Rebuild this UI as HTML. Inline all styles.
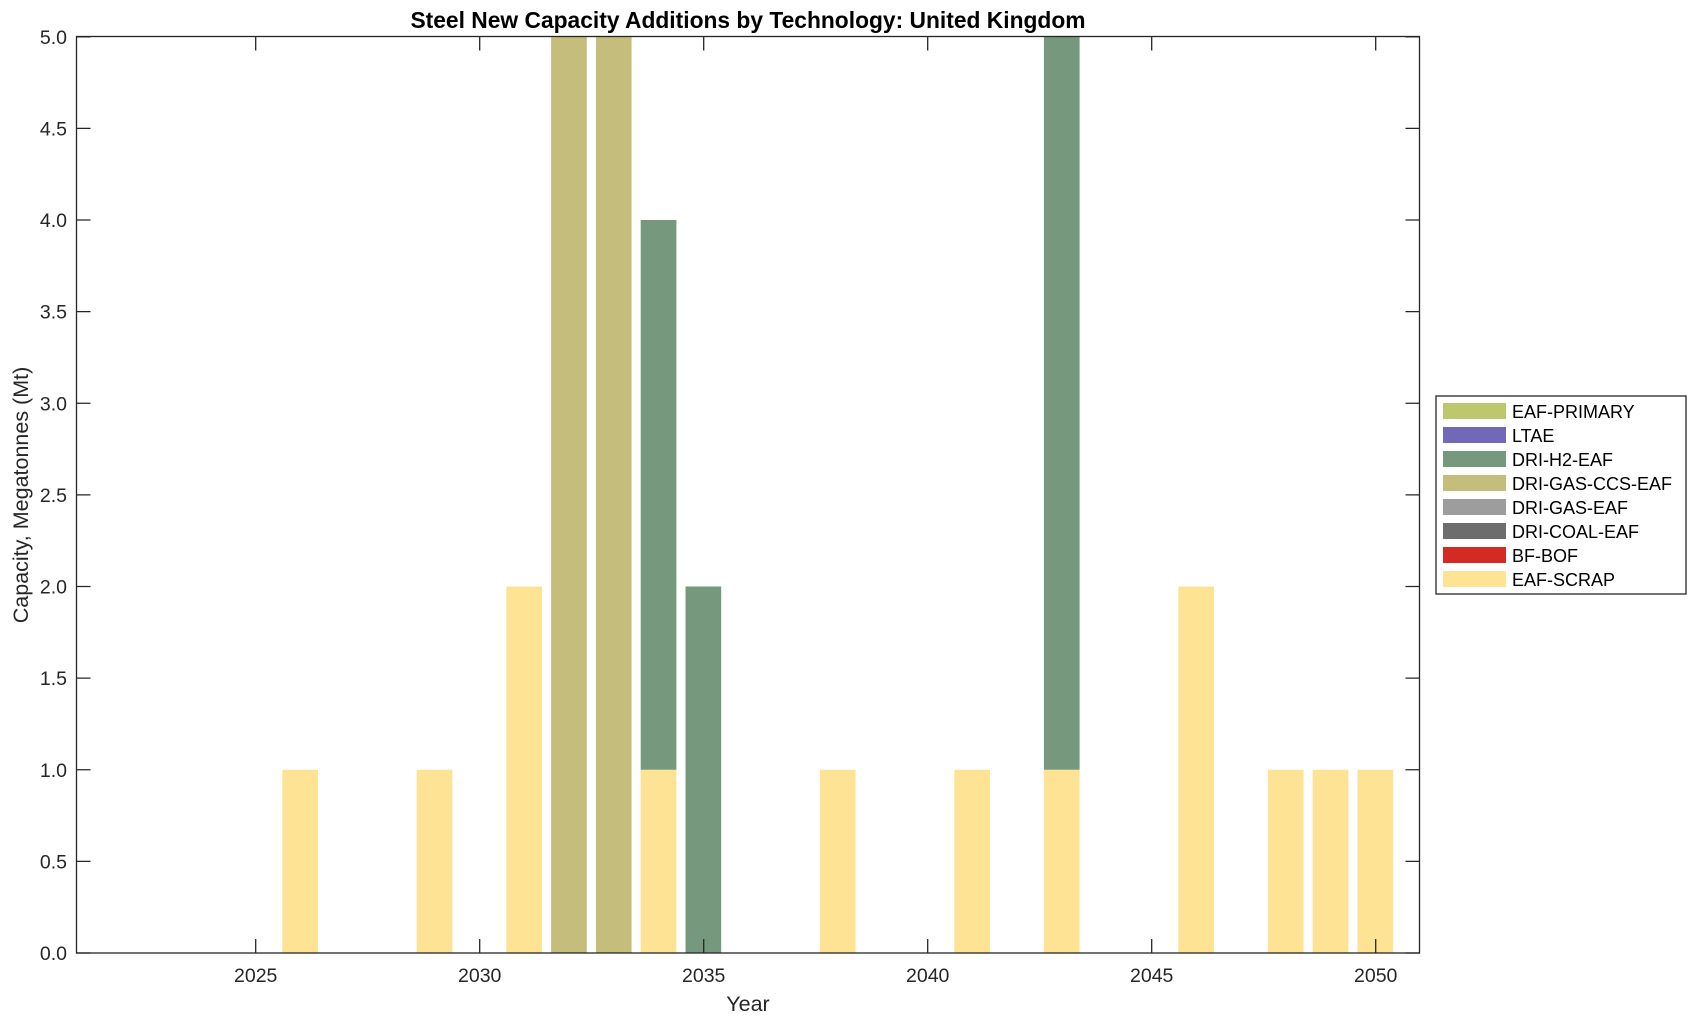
<!DOCTYPE html>
<html><head><meta charset="utf-8"><style>
html,body{margin:0;padding:0;background:#fff;}
svg{display:block;font-family:"Liberation Sans",Arial,sans-serif;}
</style></head><body>
<svg width="1696" height="1021" viewBox="0 0 1696 1021" xmlns="http://www.w3.org/2000/svg">
<rect width="1696" height="1021" fill="#fff"/>
<g id="bars">
<rect x="282.3" y="769.75" width="35.7" height="183.25" fill="#fee394"/>
<rect x="416.7" y="769.75" width="35.7" height="183.25" fill="#fee394"/>
<rect x="506.3" y="586.5" width="35.7" height="366.5" fill="#fee394"/>
<rect x="551.1" y="36.8" width="35.7" height="916.2" fill="#c5bd7c"/>
<rect x="595.9" y="36.8" width="35.7" height="916.2" fill="#c5bd7c"/>
<rect x="640.7" y="769.75" width="35.7" height="183.25" fill="#fee394"/>
<rect x="640.7" y="220" width="35.7" height="549.75" fill="#76997d"/>
<rect x="685.5" y="586.5" width="35.7" height="366.5" fill="#76997d"/>
<rect x="819.9" y="769.75" width="35.7" height="183.25" fill="#fee394"/>
<rect x="954.3" y="769.75" width="35.7" height="183.25" fill="#fee394"/>
<rect x="1043.9" y="769.75" width="35.7" height="183.25" fill="#fee394"/>
<rect x="1043.9" y="36.8" width="35.7" height="732.95" fill="#76997d"/>
<rect x="1178.3" y="586.5" width="35.7" height="366.5" fill="#fee394"/>
<rect x="1267.9" y="769.75" width="35.7" height="183.25" fill="#fee394"/>
<rect x="1312.7" y="769.75" width="35.7" height="183.25" fill="#fee394"/>
<rect x="1357.5" y="769.75" width="35.7" height="183.25" fill="#fee394"/>
</g>
<g stroke="#262626" stroke-width="1.3" fill="none">
<rect x="76.5" y="36.5" width="1343" height="916.5"/>
<path d="M255.7 953v-14M479.7 953v-14M703.7 953v-14M927.7 953v-14M1151.7 953v-14M1375.7 953v-14
M255.7 36.5v14M479.7 36.5v14M703.7 36.5v14M927.7 36.5v14M1151.7 36.5v14M1375.7 36.5v14
M76.5 953h14M76.5 861.4h14M76.5 769.75h14M76.5 678.1h14M76.5 586.5h14M76.5 494.9h14M76.5 403.25h14M76.5 311.6h14M76.5 220h14M76.5 128.4h14M76.5 36.8h14
M1419.5 953h-14M1419.5 861.4h-14M1419.5 769.75h-14M1419.5 678.1h-14M1419.5 586.5h-14M1419.5 494.9h-14M1419.5 403.25h-14M1419.5 311.6h-14M1419.5 220h-14M1419.5 128.4h-14M1419.5 36.8h-14"/>
</g>
<g fill="#262626" font-size="19.5" text-anchor="end">
<text x="67" y="960">0.0</text>
<text x="67" y="868.4">0.5</text>
<text x="67" y="776.75">1.0</text>
<text x="67" y="685.1">1.5</text>
<text x="67" y="593.5">2.0</text>
<text x="67" y="501.9">2.5</text>
<text x="67" y="410.25">3.0</text>
<text x="67" y="318.6">3.5</text>
<text x="67" y="227">4.0</text>
<text x="67" y="135.4">4.5</text>
<text x="67" y="43.8">5.0</text>
</g>
<g fill="#262626" font-size="19.5" text-anchor="middle">
<text x="255.7" y="982">2025</text>
<text x="479.7" y="982">2030</text>
<text x="703.7" y="982">2035</text>
<text x="927.7" y="982">2040</text>
<text x="1151.7" y="982">2045</text>
<text x="1375.7" y="982">2050</text>
<text x="748" y="1011" font-size="21.5">Year</text>
<text transform="translate(28,495) rotate(-90)" font-size="21.5">Capacity, Megatonnes (Mt)</text>
<text x="748" y="28" font-size="22.8" font-weight="bold" fill="#000">Steel New Capacity Additions by Technology: United Kingdom</text>
</g>
<g>
<rect x="1436" y="396" width="250" height="198" fill="#fff" stroke="#262626" stroke-width="1.3"/>
<g font-size="18" fill="#000">
<rect x="1443" y="403" width="63" height="16" fill="#bdc86e"/><text x="1512" y="418">EAF-PRIMARY</text>
<rect x="1443" y="427" width="63" height="16" fill="#7169b7"/><text x="1512" y="442">LTAE</text>
<rect x="1443" y="451" width="63" height="16" fill="#76997d"/><text x="1512" y="466">DRI-H2-EAF</text>
<rect x="1443" y="475" width="63" height="16" fill="#c5bd7c"/><text x="1512" y="490">DRI-GAS-CCS-EAF</text>
<rect x="1443" y="499" width="63" height="16" fill="#9d9d9d"/><text x="1512" y="514">DRI-GAS-EAF</text>
<rect x="1443" y="523" width="63" height="16" fill="#6d6d6d"/><text x="1512" y="538">DRI-COAL-EAF</text>
<rect x="1443" y="547" width="63" height="16" fill="#d32b24"/><text x="1512" y="562">BF-BOF</text>
<rect x="1443" y="571" width="63" height="16" fill="#fee394"/><text x="1512" y="586">EAF-SCRAP</text>
</g>
</g>
</svg>
</body></html>
